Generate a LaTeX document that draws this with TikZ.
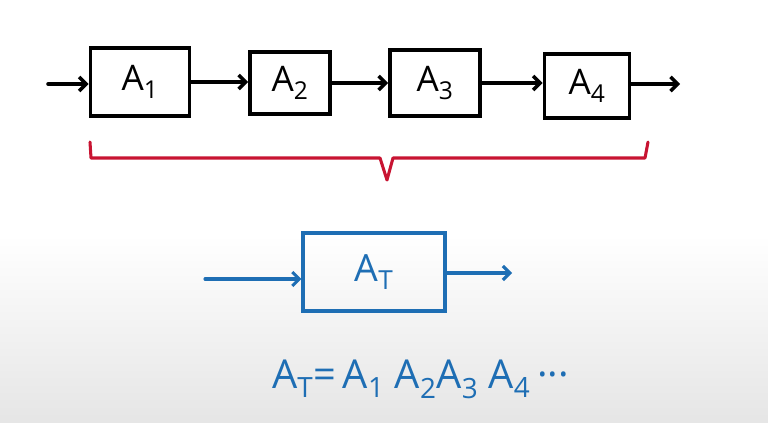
\documentclass[tikz,border=0pt]{standalone}
\usepackage{fontspec}
\setmainfont{Open Sans}
\usetikzlibrary{arrows.meta}

\definecolor{inkred}{RGB}{200,20,50}
\definecolor{inkblue}{RGB}{30,110,180}

\begin{document}
\begin{tikzpicture}[
        x=0.03cm, y=-0.03cm,
        blockbox/.style={draw=black, line width=3.2pt, fill=white, inner sep=0pt, font=\fontsize{30}{34}\selectfont},
        totalbox/.style={draw=inkblue, line width=2.6pt, text=inkblue, inner sep=0pt, minimum width=4.26cm, minimum height=2.34cm, font=\fontsize{32}{36}\selectfont},
        arrow/.style={black, line width=3pt, -{Straight Barb[length=6pt, width=12pt]}, line cap=round},
        bluearrow/.style={inkblue, line width=2.6pt, -{Straight Barb[length=6pt, width=12pt]}, line cap=round},
        bracket/.style={inkred, line width=2.6pt, line join=round, line cap=round}
    ]

    % background, page size of the reference
    \useasboundingbox (0,0) rectangle (768,422);
    \fill[top color=white, bottom color=gray!20, draw=none] (0,235) rectangle (768,422);

    % ==========================================
    % ROW 1: chain of blocks A1 ... A4
    % ==========================================
    \node[blockbox, minimum width=2.97cm, minimum height=2.04cm] (a1) at (140,82) {A\textsubscript{1}};
    \node[blockbox, minimum width=2.40cm, minimum height=1.86cm] (a2) at (290,83) {A\textsubscript{2}};
    \node[blockbox, minimum width=2.70cm, minimum height=1.98cm] (a3) at (435,83) {A\textsubscript{3}};
    \node[blockbox, minimum width=2.55cm, minimum height=1.92cm] (a4) at (587,86) {A\textsubscript{4}};

    \coordinate (in1) at (48,84);
    \coordinate (out1) at (680,84);

    \draw[arrow] (in1) -- (in1 -| a1.west);
    \draw[arrow] (a1.east) -- (a1.east -| a2.west);
    \draw[arrow] (a2.east) -- (a2.east -| a3.west);
    \draw[arrow] (a3.east) -- (a3.east -| a4.west);
    \draw[arrow] (a4.east |- out1) -- (out1);

    % red bracket under the chain
    \draw[bracket] (90,142) -- (91,158) -- (380,158) -- (387,180) -- (393,158) -- (645,158) -- (648,142);

    % ==========================================
    % ROW 2: total block A_T
    % ==========================================
    \node[totalbox] (at) at (374,272) {A\textsubscript{T}};

    \coordinate (in2) at (205,279);
    \coordinate (out2) at (512,273);

    \draw[bluearrow] (in2) -- (in2 -| at.west);
    \draw[bluearrow] (at.east |- out2) -- (out2);

    % product formula
    \node[text=inkblue, font=\fontsize{34}{38}\selectfont, anchor=base west, inner sep=0pt] (prod) at (272,388)
        {A\textsubscript{T}=\,A\textsubscript{1} A\textsubscript{2}A\textsubscript{3} A\textsubscript{4}\,\textperiodcentered\textperiodcentered\textperiodcentered};

\end{tikzpicture}
\end{document}
